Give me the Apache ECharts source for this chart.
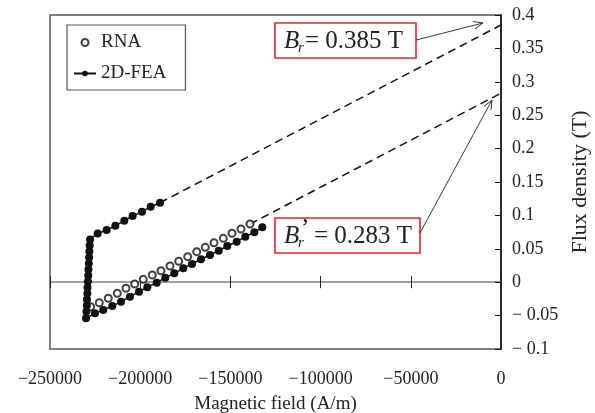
<!DOCTYPE html>
<html>
<head>
<meta charset="utf-8">
<script src="https://cdn.jsdelivr.net/npm/echarts@6/dist/echarts.min.js"></script>
<style>
  html, body { margin: 0; padding: 0; background: #fff; }
  #chart { width: 595px; height: 413px; }
</style>
</head>
<body>
<div id="chart"></div>
<script>
// Recoil line predicted by the reluctance network analysis (lower branch only)
const rnaField = [-227440, -222670, -217680, -212690, -207870, -203050, -198280, -193290,
  -188470, -183480, -178660, -173670, -168680, -163910, -159090, -153940, -149110, -144120, -139130];
const rnaFlux = [-0.0367, -0.0307, -0.0241, -0.0166, -0.0091, -0.0027, 0.0043, 0.0108,
  0.0172, 0.0243, 0.0313, 0.0382, 0.0457, 0.0522, 0.0591, 0.0657, 0.0732, 0.0796, 0.0871];

// Finite element result: upper recoil line, knee drop, lower recoil line
const feaField = [-189000, -194200, -199000, -204200, -208800, -213800, -218600, -223600,
  -227800, -228000, -228200, -228300, -228500, -228700, -228800, -229000, -229200, -229300,
  -229500, -229600, -229800, -230040,
  -225060, -220460, -215470, -210640, -205650, -200670, -196060, -190850, -186090, -181100,
  -176110, -171290, -166300, -161310, -156490, -151720, -146510, -141740, -136750, -132320];
const feaFlux = [0.119, 0.113, 0.1055, 0.099, 0.092, 0.0846, 0.078, 0.073,
  0.064, 0.055, 0.046, 0.037, 0.028, 0.019, 0.010, 0.001, -0.008, -0.017,
  -0.026, -0.035, -0.044, -0.054,
  -0.0466, -0.0416, -0.0356, -0.0292, -0.0217, -0.0142, -0.0076, -0.0007, 0.0067, 0.0133,
  0.0208, 0.0272, 0.0343, 0.0407, 0.0472, 0.0542, 0.0606, 0.0681, 0.0747, 0.0822];

// Extrapolated recoil lines down to zero field (remanence values)
const brUpper = 0.385;
const brLower = 0.283;
const upperExtField = [-189000, 0];
const upperExtFlux = [0.119, brUpper];
const lowerExtField = [-139130, 0];
const lowerExtFlux = [0.0871, brLower];

// Axis ranges and ticks
const xMin = -250000, xMax = 0, xStep = 50000;
const yMin = -0.1, yMax = 0.4, yStep = 0.05;

const zip = (xs, ys) => xs.map((x, i) => [x, ys[i]]);

const FONT = '"Liberation Serif", "Times New Roman", serif';
const MINUS = '\u2212';

const chart = echarts.init(document.getElementById('chart'), null, { renderer: 'canvas' });

const fmtX = v => (v < 0 ? MINUS + Math.abs(v) : String(v));
const fmtY = v => {
  const r = Math.round(v * 100) / 100;
  return r < 0 ? MINUS + ' ' + Math.abs(r) : String(r);
};

const baseX = { type: 'value', min: xMin, max: xMax, interval: xStep, splitLine: { show: false } };

// Open arrow helper for the annotation leaders
function arrow(x1, y1, x2, y2) {
  const a = Math.atan2(y2 - y1, x2 - x1);
  const len = 10, spread = 0.4;
  const style = { stroke: '#222', lineWidth: 0.9 };
  return [
    { type: 'line', shape: { x1, y1, x2, y2 }, style },
    { type: 'line', shape: { x1: x2, y1: y2, x2: x2 - len * Math.cos(a - spread), y2: y2 - len * Math.sin(a - spread) }, style },
    { type: 'line', shape: { x1: x2, y1: y2, x2: x2 - len * Math.cos(a + spread), y2: y2 - len * Math.sin(a + spread) }, style }
  ];
}

function label(x, y, prime, valueText) {
  const big = 25, small = 15;
  const els = [
    { type: 'rect', shape: { x: x, y: y, width: prime ? 145 : 141, height: 35 },
      style: { fill: '#fff', stroke: '#e3262e', lineWidth: 1.6 } },
    { type: 'text', x: x + 9, y: y + 18, style: { text: 'B', font: 'italic ' + big + 'px ' + FONT, fill: '#222', verticalAlign: 'middle' } },
    { type: 'text', x: x + 23, y: y + 25, style: { text: 'r', font: 'italic ' + small + 'px ' + FONT, fill: '#222', verticalAlign: 'middle' } }
  ];
  if (prime) {
    els.push({ type: 'text', x: x + 26, y: y + 11, style: { text: '\u2019', font: big + 'px ' + FONT, fill: '#222', verticalAlign: 'middle' } });
  }
  els.push({ type: 'text', x: x + (prime ? 39 : 30), y: y + 18,
    style: { text: '= ' + valueText + ' T', font: big + 'px ' + FONT, fill: '#222', verticalAlign: 'middle' } });
  return els;
}

chart.setOption({
  animation: false,
  backgroundColor: '#fff',
  grid: { left: 50, right: 94, top: 15, bottom: 64, outerBoundsMode: 'none', containLabel: false,
    show: true, borderColor: '#555', borderWidth: 1.5, backgroundColor: 'transparent' },
  legend: {
    left: 67, top: 25, orient: 'vertical',
    itemWidth: 22, itemHeight: 7, itemGap: 12,
    padding: [8, 19, 7, 6],
    borderColor: '#555', borderWidth: 1.2, borderRadius: 0,
    textStyle: { fontFamily: FONT, fontSize: 19, color: '#222' },
    data: [
      { name: 'RNA', itemStyle: { borderWidth: 0.9 } },
      { name: '2D-FEA' }
    ]
  },
  xAxis: [
    Object.assign({}, baseX, {
      position: 'bottom',
      name: 'Magnetic field (A/m)', nameLocation: 'middle', nameGap: 46,
      nameTextStyle: { fontFamily: FONT, fontSize: 19, color: '#222' },
      axisLine: { show: false, onZero: false },
      axisTick: { show: false },
      axisLabel: { margin: 21, fontFamily: FONT, fontSize: 18, color: '#222', formatter: fmtX }
    }),
    Object.assign({}, baseX, {
      position: 'bottom',
      axisLine: { show: true, onZero: true, onZeroAxisIndex: 0, lineStyle: { color: '#808080', width: 1.5 } },
      axisTick: { show: true, inside: true, length: 6, lineStyle: { color: '#222', width: 1 } },
      axisLabel: { show: false }
    }),
    Object.assign({}, baseX, {
      position: 'top',
      axisLine: { show: false, onZero: true, onZeroAxisIndex: 0 },
      axisTick: { show: true, inside: true, length: 6, lineStyle: { color: '#222', width: 1 } },
      axisLabel: { show: false }
    })
  ],
  yAxis: {
    type: 'value', position: 'right', min: yMin, max: yMax, interval: yStep,
    name: 'Flux density (T)', nameLocation: 'middle', nameRotate: 90, nameGap: 66,
    nameTextStyle: { fontFamily: FONT, fontSize: 22, color: '#222' },
    axisLine: { show: true, onZero: false, lineStyle: { color: '#111', width: 1.5 } },
    axisTick: { show: true, inside: true, length: 6, lineStyle: { color: '#111', width: 1 } },
    axisLabel: { margin: 11, fontFamily: FONT, fontSize: 18, color: '#222', formatter: fmtY },
    splitLine: { show: false }
  },
  series: [
    {
      name: 'upper-extrapolation', type: 'line', data: zip(upperExtField, upperExtFlux),
      showSymbol: false, silent: true, z: 1,
      lineStyle: { color: '#111', width: 1.5, type: [8, 5] }
    },
    {
      name: 'lower-extrapolation', type: 'line', data: zip(lowerExtField, lowerExtFlux),
      showSymbol: false, silent: true, z: 1,
      lineStyle: { color: '#111', width: 1.5, type: [8, 5] }
    },
    {
      name: 'RNA', type: 'scatter', data: zip(rnaField, rnaFlux), z: 2,
      symbol: 'emptyCircle', symbolSize: 7,
      itemStyle: { color: '#111', borderColor: '#111', borderWidth: 0.9 }
    },
    {
      name: '2D-FEA', type: 'line', data: zip(feaField, feaFlux), z: 3,
      symbol: 'circle', symbolSize: 8, showAllSymbol: true,
      itemStyle: { color: '#111' },
      lineStyle: { color: '#111', width: 1.5 }
    }
  ],
  graphic: [].concat(
    label(275, 23, false, String(brUpper)),
    arrow(416, 40, 483, 23),
    label(275, 218, true, String(brLower)),
    arrow(420, 233, 492, 100)
  )
});
</script>
</body>
</html>
